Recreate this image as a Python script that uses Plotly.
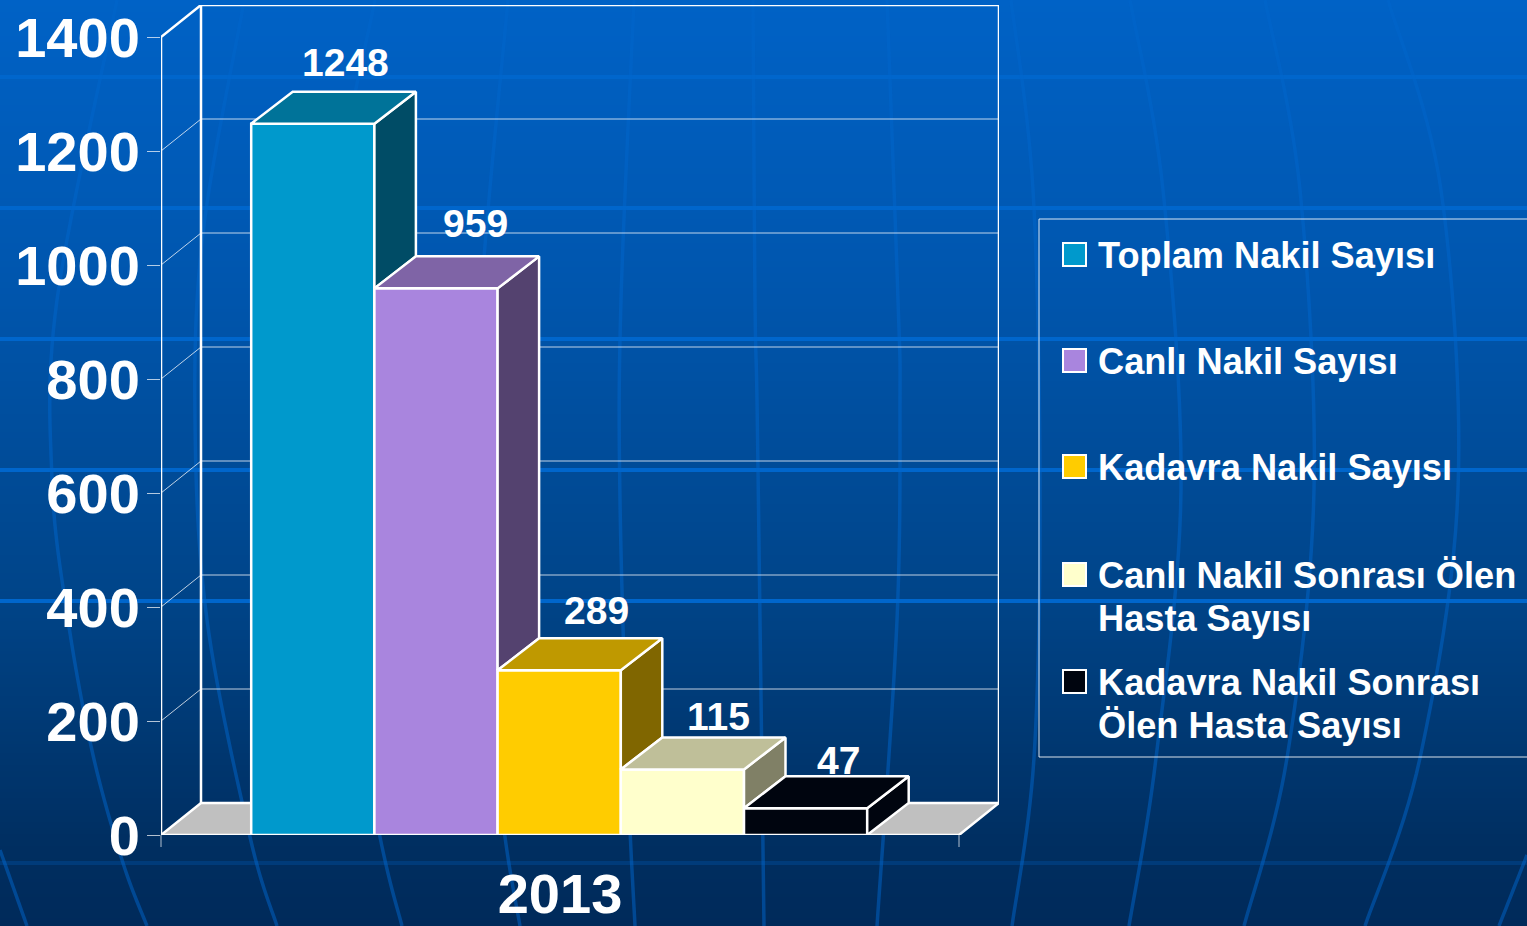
import numpy as np
import plotly.graph_objects as go

# ---- data -------------------------------------------------------------
year = 2013
series_names = ["Toplam Nakil Sayısı", "Canlı Nakil Sayısı", "Kadavra Nakil Sayısı",
                "Canlı Nakil Sonrası Ölen Hasta Sayısı", "Kadavra Nakil Sonrası Ölen Hasta Sayısı"]
series_values = [1248, 959, 289, 115, 47]
series_colors = ["#0099CC", "#A985DE", "#FFCC00", "#FFFFCC", "#00050F"]
legend_lines = [["Toplam Nakil Sayısı"], ["Canlı Nakil Sayısı"], ["Kadavra Nakil Sayısı"],
                ["Canlı Nakil Sonrası Ölen", "Hasta Sayısı"], ["Kadavra Nakil Sonrası", "Ölen Hasta Sayısı"]]
y_ticks = [0, 200, 400, 600, 800, 1000, 1200, 1400]

# ---- page geometry ----------------------------------------------------
W, H = 1527, 926
X0_PX, X1_PX = 161, 959      # front floor edge
Y0_PX, Y1400_PX = 835, 37    # front axis
DX_PX, DY_PX = 40, 32        # 3-D depth
TOP_PX = Y1400_PX - DY_PX
x_per_px = 1.0 / (X1_PX - X0_PX)
y_per_px = 1400.0 / (Y0_PX - Y1400_PX)
DX, DY = DX_PX * x_per_px, DY_PX * y_per_px
BAR_DX = 41.5 * x_per_px
XMIN, XMAX = year - 0.5, year + 0.5
group_w = 616 / 798
bar_w = group_w / len(series_values)
group_shift = -0.8 * x_per_px
WHITE = "#FFFFFF"
FONT = "Liberation Sans, Arial, sans-serif"


def px(x):
    return x / W


def py(y):
    return 1 - y / H


def shade(hex_color, k):
    r, g, b = (int(hex_color[i:i + 2], 16) for i in (1, 3, 5))
    return f"rgb({r * k:.0f},{g * k:.0f},{b * k:.0f})"


def lerp_stops(y, stops):
    ys = [s[0] for s in stops]
    return "rgb(" + ",".join(f"{np.interp(y, ys, [s[1][c] for s in stops]):.0f}" for c in range(3)) + ")"


def smooth_path(points, n=14):
    """Catmull-Rom through page-pixel points, as a paper-fraction SVG path."""
    p = [points[0]] + list(points) + [points[-1]]
    out = []
    for i in range(1, len(p) - 2):
        a, b, c, d = map(np.array, (p[i - 1], p[i], p[i + 1], p[i + 2]))
        for t in np.linspace(0, 1, n, endpoint=False):
            q = 0.5 * (2 * b + (c - a) * t + (2 * a - 5 * b + 4 * c - d) * t ** 2 + (3 * b - a - 3 * c + d) * t ** 3)
            out.append(q)
    out.append(np.array(p[-1]))
    return "M " + " L ".join(f"{px(q[0]):.5f},{py(q[1]):.5f}" for q in out)


shapes = []

# ---- background -------------------------------------------------------
grad_stops = [(0, (0, 98, 198)), (300, (0, 85, 172)), (600, (0, 68, 136)), (850, (0, 46, 96)), (926, (0, 42, 90))]
for y in range(0, H, 3):
    shapes.append(dict(type="rect", xref="paper", yref="paper", x0=0, x1=1, y0=py(y), y1=py(y + 3),
                       fillcolor=lerp_stops(y + 1, grad_stops), line=dict(width=0), layer="below"))

h_lines = [(77, 1), (208, 1), (339, 1), (470, 1), (601, 1), (863, 0.25)]
for y, a in h_lines:
    shapes.append(dict(type="line", xref="paper", yref="paper", x0=0, x1=1, y0=py(y), y1=py(y),
                       line=dict(color=f"rgba(0,102,204,{a})", width=4), layer="below"))

meridians = [
    [(117, 0), (57, 300), (52, 480), (68, 620), (93, 755), (123, 863), (147, 926)],
    [(243, 7), (203, 233), (195, 420), (207, 620), (250, 837), (277, 926)],
    [(375, 0), (330, 230), (322, 430), (340, 620), (380, 837), (402, 926)],
    [(508, 0), (481, 300), (478, 500), (490, 700), (505, 837), (520, 926)],
    [(634, 0), (621, 300), (620, 500), (628, 780), (635, 926)],
    [(753, 0), (755, 300), (757, 400), (760, 620), (764, 926)],
    [(887, 0), (898, 300), (900, 400), (897, 620), (877, 926)],
    [(1011, 0), (1033, 190), (1040, 490), (1034, 758), (1012, 926)],
    [(1130, 0), (1163, 190), (1181, 490), (1156, 758), (1129, 926)],
    [(1265, 0), (1300, 190), (1314, 490), (1287, 758), (1244, 926)],
    [(1388, 0), (1441, 190), (1458, 490), (1420, 758), (1365, 926)],
    [(1527, 855), (1499, 926)],
    [(0, 850), (27, 926)],
]
for m in meridians:
    shapes.append(dict(type="path", xref="paper", yref="paper", path=smooth_path(m),
                       line=dict(color="rgba(0,102,204,0.5)", width=3.5), layer="below"))


def data_line(xs, ys, width=2.0, color=WHITE):
    d = "M " + " L ".join(f"{x},{y}" for x, y in zip(xs, ys))
    shapes.append(dict(type="path", xref="x", yref="y", path=d, line=dict(color=color, width=width), layer="below"))


# ---- floor and walls (data coordinates) --------------------------------
shapes.append(dict(type="path", xref="x", yref="y", layer="below", fillcolor="#C0C0C0", line=dict(width=0),
                   path=f"M {XMIN},0 L {XMIN + DX},{DY} L {XMAX + DX},{DY} L {XMAX},0 Z"))
GRID = "rgba(255,255,255,0.75)"
for t in y_ticks[1:-1]:
    data_line([XMIN, XMIN + DX, XMAX + DX], [t, t + DY, t + DY], 1, GRID)
ymax = y_ticks[-1]
data_line([XMIN, XMIN, XMIN + DX, XMAX + DX, XMAX + DX, XMAX], [0, ymax, ymax + DY, ymax + DY, DY, 0], 2.5)
data_line([XMIN + DX, XMIN + DX], [DY, ymax + DY], 2.5)
data_line([XMIN, XMIN + DX, XMAX + DX], [0, DY, DY], 2.5)
data_line([XMIN, XMAX], [0, 0], 2.5)

fig = go.Figure()

group_left = year - group_w / 2 + group_shift

# front faces: real bars
for i, (name, v, c) in enumerate(zip(series_names, series_values, series_colors)):
    fig.add_trace(go.Bar(x=[year], y=[v], name=name, width=bar_w, offset=group_left + i * bar_w - year,
                         marker=dict(color=c, line=dict(color=WHITE, width=2.5)),
                         showlegend=False, hoverinfo="name+y"))


# top and side faces: derived from the same values
def face(xs, ys, color):
    fig.add_trace(go.Scatter(x=xs, y=ys, mode="lines", fill="toself", fillcolor=color,
                             line=dict(color=WHITE, width=2.5), showlegend=False, hoverinfo="skip"))


for i, (v, c) in enumerate(zip(series_values, series_colors)):
    l = group_left + i * bar_w
    r = l + bar_w
    nxt = series_values[i + 1] if i + 1 < len(series_values) else 0
    face([r, r + BAR_DX, r + BAR_DX, r, r], [v, v + DY, nxt + DY, nxt, v], shade(c, 0.5) if i < 4 else c)
    face([l, l + BAR_DX, r + BAR_DX, r, l], [v, v + DY, v + DY, v, v], shade(c, 0.75) if i < 4 else c)

# x-axis end ticks below the plot area
for xp in (X0_PX, X1_PX):
    shapes.append(dict(type="line", xref="paper", yref="paper", x0=px(xp), x1=px(xp), y0=py(Y0_PX), y1=py(Y0_PX + 12),
                       line=dict(color="rgba(255,255,255,0.7)", width=1), layer="below"))

annotations = []
# data labels
label_dx = [32.5, 39, 37, 36, 33]
label_dy = [61, 65, 60, 53, 48]
for i, v in enumerate(series_values):
    annotations.append(dict(x=group_left + (i + 0.5) * bar_w, y=v, xref="x", yref="y", text=str(v), showarrow=False,
                            xshift=label_dx[i], yshift=label_dy[i], xanchor="center", yanchor="middle",
                            font=dict(family=FONT, size=39, color=WHITE, weight="bold")))

# ---- legend box --------------------------------------------------------
shapes.append(dict(type="rect", xref="paper", yref="paper", x0=px(1039), x1=px(1535), y0=py(219), y1=py(757),
                   line=dict(color="rgba(255,255,255,0.85)", width=1), layer="below"))
legend_y = [255, 361, 467, 575, 682]
for lines, c, yc in zip(legend_lines, series_colors, legend_y):
    shapes.append(dict(type="rect", xref="paper", yref="paper", x0=px(1063), x1=px(1086), y0=py(yc - 12), y1=py(yc + 11),
                       fillcolor=c, line=dict(color=WHITE, width=2), layer="below"))
    for k, line in enumerate(lines):
        annotations.append(dict(x=px(1095.5), y=py(yc + k * 43), xref="paper", yref="paper", text=line, showarrow=False,
                                xanchor="left", yanchor="middle", align="left",
                                font=dict(family=FONT, size=36.2, color=WHITE, weight="bold")))

fig.update_layout(
    width=W, height=H, margin=dict(l=0, r=0, t=0, b=0, pad=0, autoexpand=False), autosize=False,
    paper_bgcolor="#00509F", plot_bgcolor="rgba(0,0,0,0)",
    barmode="overlay",
    shapes=shapes, annotations=annotations, showlegend=False,
    xaxis=dict(domain=[px(X0_PX), px(X1_PX + DX_PX)], range=[XMIN, XMAX + DX], showgrid=False, zeroline=False,
               automargin=False, tickvals=[year], ticktext=[str(year)], ticks="", ticklabelstandoff=21,
               tickfont=dict(family=FONT, size=56, color=WHITE, weight="bold"), fixedrange=True),
    yaxis=dict(domain=[py(Y0_PX), py(TOP_PX)], range=[0, ymax + DY], showgrid=False, zeroline=False,
               automargin=False, tickvals=y_ticks, ticks="outside", ticklen=13, tickwidth=1,
               tickcolor="rgba(255,255,255,0.7)", ticklabelstandoff=-4,
               tickfont=dict(family=FONT, size=56, color=WHITE, weight="bold"), fixedrange=True),
)

fig.write_html("out.html", config={"displayModeBar": False},
               post_script="document.body.style.margin='0';document.body.style.overflow='hidden';")
